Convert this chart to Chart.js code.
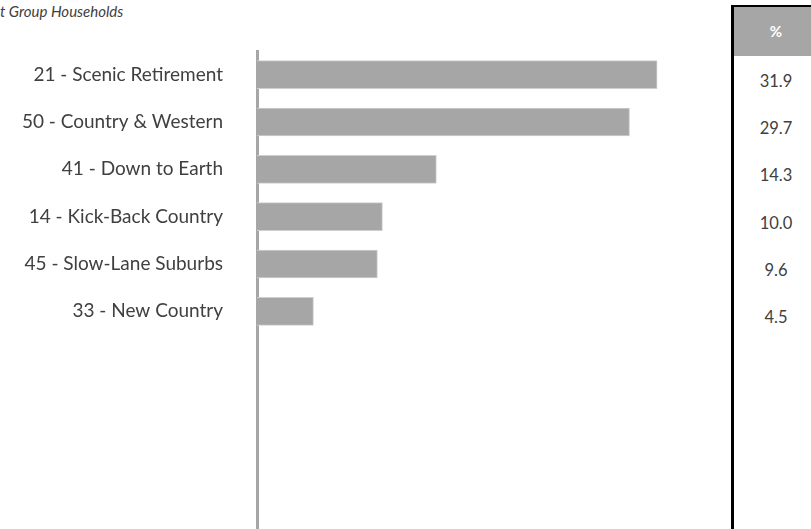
<!DOCTYPE html>
<html lang="en">
<head>
    <meta charset="UTF-8">
    <title>Group Households</title>
    <script src="https://cdn.jsdelivr.net/npm/chart.js"></script>
    <style>
        html, body { margin: 0; padding: 0; width: 811px; height: 529px; overflow: hidden; background: white; }
        .title {
            position: absolute; left: 0; top: 2px;
            font-family: Lato, sans-serif; font-style: italic; font-size: 15px; color: #404040;
        }
        .chart-box { position: absolute; left: 0; top: 0; width: 696px; height: 617px; }
        .pct-table {
            position: absolute; left: 731px; top: 5px; width: 90px; height: 600px;
            border-left: 3px solid #000; border-top: 2px solid #000;
            font-family: Lato, sans-serif;
        }
        .pct-head {
            height: 49px; background: #a6a6a6; color: white; font-weight: bold;
            font-size: 15px; line-height: 49px; text-align: center; padding-right: 6px;
        }
        .pct-row {
            position: relative; top: 2px;
            height: 47.2px; line-height: 47.2px; text-align: center; padding-right: 6px;
            font-size: 16.5px; color: #404040;
        }
    </style>
</head>
<body>
    <div class="title">t Group Households</div>
    <div class="chart-box"><canvas id="barChart" width="696" height="617"></canvas></div>
    <div class="pct-table" id="pctTable"><div class="pct-head">%</div></div>
    <script>
        const categories = ["21 - Scenic Retirement", "50 - Country & Western", "41 - Down to Earth",
                            "14 - Kick-Back Country", "45 - Slow-Lane Suburbs", "33 - New Country"];
        const values = [31.9, 29.7, 14.3, 10.0, 9.6, 4.5];
        const emptySlots = 5;   // blank rows under the bars

        // pad with empty rows so the bars sit at the top
        let labels = categories.concat(Array(emptySlots).fill(""));
        let data = values.concat(Array(emptySlots).fill(null));

        // percentage column on the right
        let table = document.getElementById("pctTable");
        values.forEach(v => {
            let row = document.createElement("div");
            row.className = "pct-row";
            row.textContent = v.toFixed(1);
            table.appendChild(row);
        });

        new Chart(document.getElementById("barChart"), {
            type: "bar",
            data: {
                labels,
                datasets: [{
                    data,
                    backgroundColor: "#a6a6a6",
                    borderColor: "#cfcfcf",
                    borderWidth: 1,
                    barThickness: 28
                }]
            },
            options: {
                indexAxis: "y",
                responsive: false,
                animation: false,
                layout: { padding: { top: 51, left: 0, right: 0, bottom: 0 } },
                plugins: { legend: { display: false }, tooltip: { enabled: false } },
                scales: {
                    x: { display: false, min: 0, max: 35 },
                    y: {
                        afterFit: s => { s.width = 257; },
                        grid: { display: false, drawTicks: false },
                        border: { display: true, color: "#a6a6a6", width: 3 },
                        ticks: {
                            padding: 34,
                            color: "#404040",
                            font: { family: "Lato", size: 19 }
                        }
                    }
                }
            }
        });
    </script>
</body>
</html>
